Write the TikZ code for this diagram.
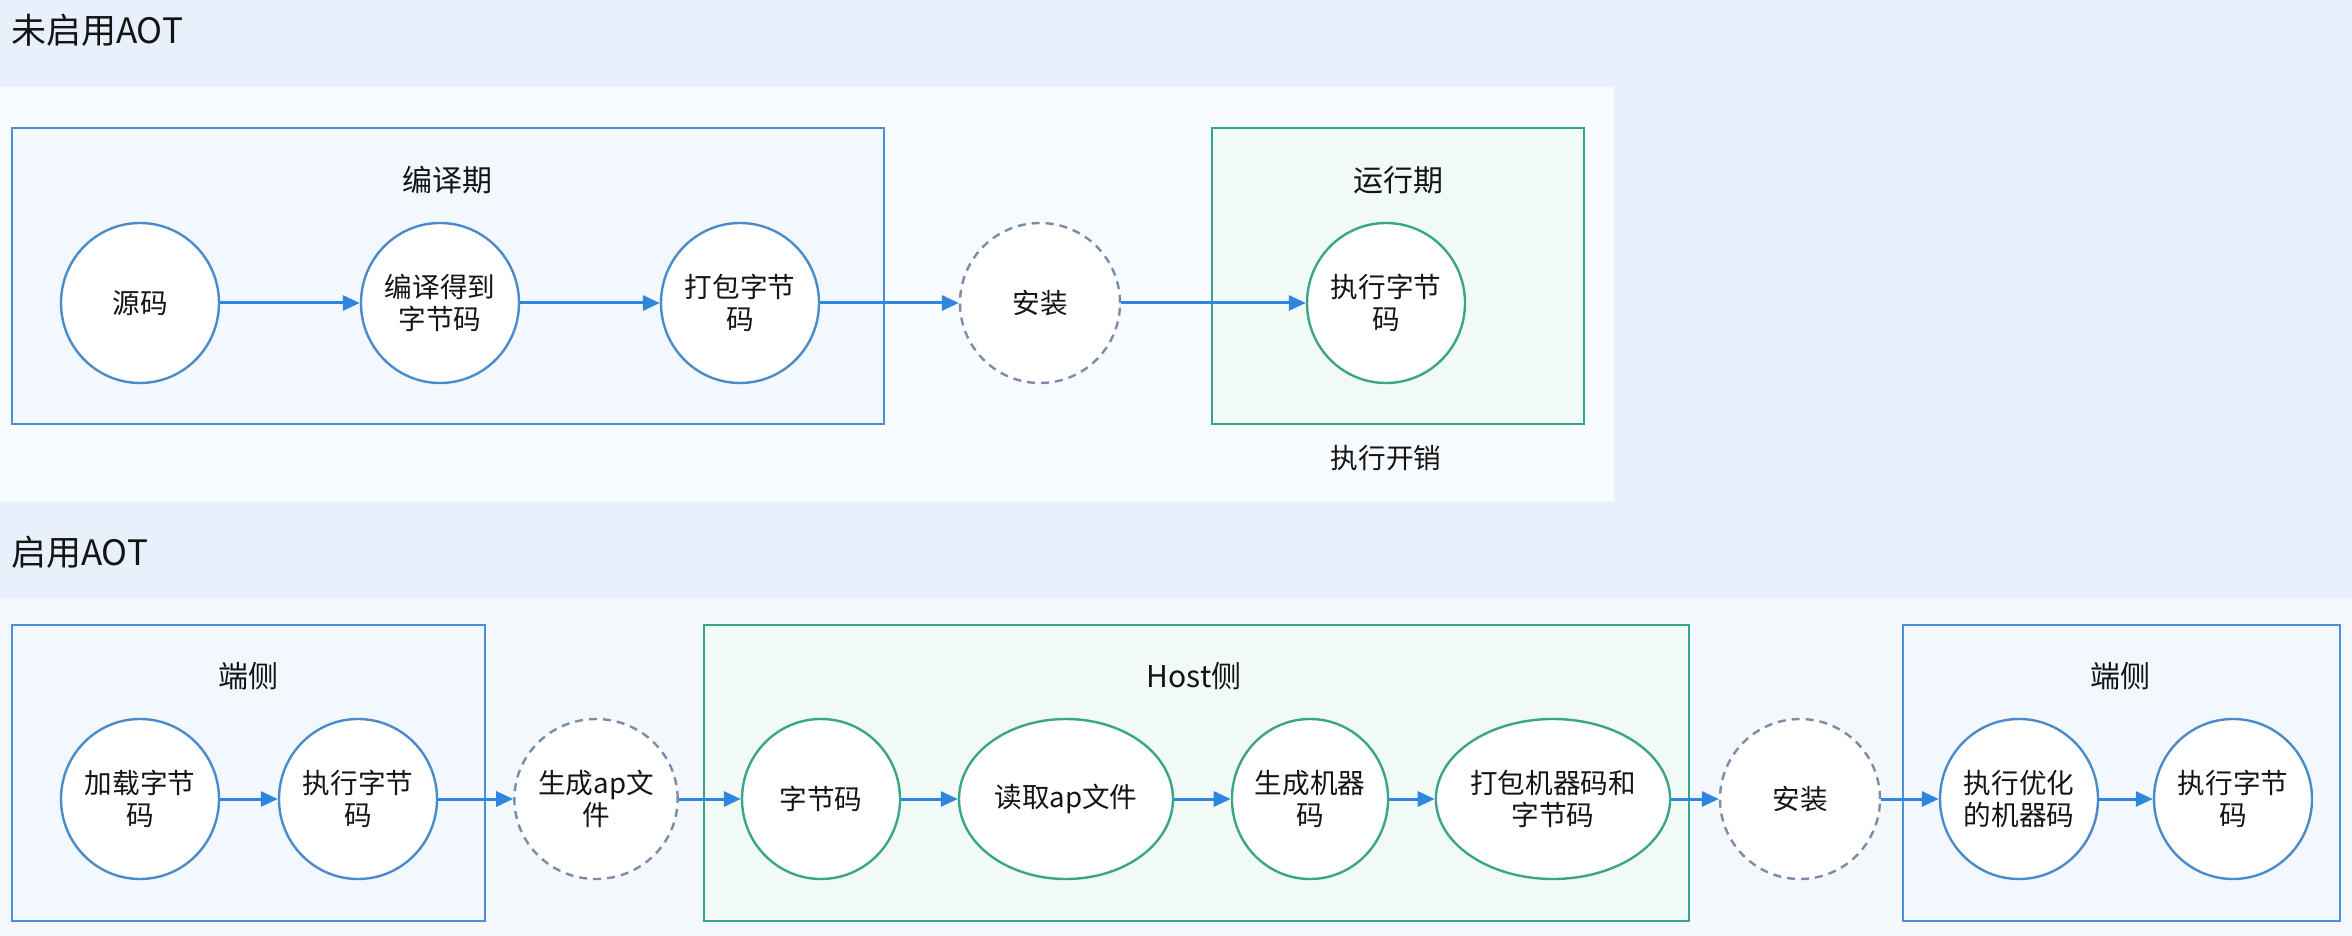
\documentclass[tikz,border=0pt]{standalone}
\usepackage{fontspec}
\setmainfont{Noto Sans CJK SC}
\usetikzlibrary{shapes.geometric,arrows.meta}
\definecolor{bgblue}{HTML}{E8F1FB}
\definecolor{panel}{HTML}{F8FBFE}
\definecolor{panelb}{HTML}{F4F8FD}
\definecolor{boxblue}{HTML}{4A90D9}
\definecolor{boxgreen}{HTML}{33A58A}
\definecolor{fillblue}{HTML}{F2F8FE}
\definecolor{fillgreen}{HTML}{F2FAF6}
\definecolor{cblue}{HTML}{4A8CCB}
\definecolor{cgreen}{HTML}{3AA58A}
\definecolor{dashc}{HTML}{7C8CA6}
\definecolor{arrc}{HTML}{2E86DE}
\definecolor{txt}{HTML}{141414}
\tikzset{
  x=0.5pt, y=-0.5pt,
  bluebox/.style={draw=boxblue, fill=fillblue, line width=1.3pt},
  greenbox/.style={draw=boxgreen, fill=fillgreen, line width=1.3pt},
  stagebase/.style={ellipse, fill=white, inner sep=0pt, minimum width=79pt, minimum height=80pt,
    align=center, text=txt, font=\fontsize{13.8}{16}\selectfont, line width=1.2pt},
  bstage/.style={stagebase, draw=cblue},
  gstage/.style={stagebase, draw=cgreen},
  dstage/.style={stagebase, draw=dashc, dash pattern=on 4pt off 3pt, minimum width=80pt},
  boxlabel/.style={text=txt, font=\fontsize{15}{17}\selectfont},
  title/.style={text=txt, font=\fontsize{17.5}{20}\selectfont, anchor=west},
  note/.style={text=txt, font=\fontsize{13.8}{16}\selectfont},
  arr/.style={draw=arrc, line width=1.5pt, -{Triangle[length=8.5pt,width=7.5pt]}}
}
\begin{document}
\begin{tikzpicture}
\useasboundingbox (0,0) rectangle (2352,936);
\fill[bgblue] (0,0) rectangle (2352,936);
\fill[panel] (0,87) rectangle (1614,502);
\fill[panelb] (0,598) rectangle (2352,936);

% titles
\node[title] (t1) at (4,30) {未启用AOT};
\node[title] (t2) at (4,552) {启用AOT};

% top boxes
\draw[bluebox] (12,128) rectangle (884,424);
\node[boxlabel] (l1) at (447,180) {编译期};
\draw[greenbox] (1212,128) rectangle (1584,424);
\node[boxlabel] (l2) at (1398,180) {运行期};
\node[note] (cost) at (1386,458) {执行开销};

% top nodes
\node[bstage] (src) at (140,303) {源码};
\node[bstage] (cmp) at (440,303) {编译得到\\字节码};
\node[bstage] (pkg) at (740,303) {打包字节\\码};
\node[dstage] (ins) at (1040,303) {安装};
\node[gstage] (exe) at (1386,303) {执行字节\\码};

\draw[arr] (src) -- (cmp);
\draw[arr] (cmp) -- (pkg);
\draw[arr] (pkg) -- (ins);
\draw[arr] (ins) -- (exe);

% bottom boxes
\draw[bluebox] (12,625) rectangle (485,921);
\node[boxlabel] (l3) at (248,676) {端侧};
\draw[greenbox] (704,625) rectangle (1689,921);
\node[boxlabel] (l4) at (1194,676) {Host侧};
\draw[bluebox] (1903,625) rectangle (2340,921);
\node[boxlabel] (l5) at (2120,676) {端侧};

% bottom nodes
\node[bstage] (load) at (140,799) {加载字节\\码};
\node[bstage] (exb) at (358,799) {执行字节\\码};
\node[dstage] (gen) at (596,799) {生成ap文\\件};
\node[gstage] (bc) at (821,799) {字节码};
\node[gstage, minimum width=107pt] (rd) at (1066,799) {读取ap文件};
\node[gstage, minimum width=78pt] (gmc) at (1310,799) {生成机器\\码};
\node[gstage, minimum width=112pt] (pk2) at (1553,799) {打包机器码和\\字节码};
\node[dstage] (ins2) at (1800,799) {安装};
\node[bstage] (opt) at (2019,799) {执行优化\\的机器码};
\node[bstage] (ex2) at (2233,799) {执行字节\\码};

\draw[arr] (load) -- (exb);
\draw[arr] (exb) -- (gen);
\draw[arr] (gen) -- (bc);
\draw[arr] (bc) -- (rd);
\draw[arr] (rd) -- (gmc);
\draw[arr] (gmc) -- (pk2);
\draw[arr] (pk2) -- (ins2);
\draw[arr] (ins2) -- (opt);
\draw[arr] (opt) -- (ex2);
\end{tikzpicture}
\end{document}
